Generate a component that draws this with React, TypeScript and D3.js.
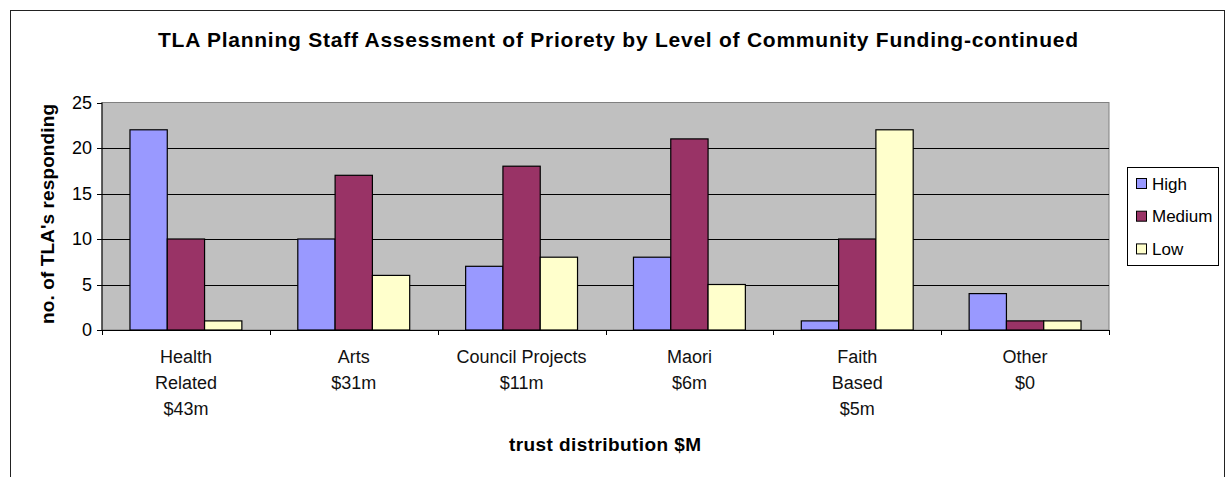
import React from "react";
import * as d3 from "d3";

const categories: string[][] = [
  ["Health", "Related", "$43m"],
  ["Arts", "$31m"],
  ["Council Projects", "$11m"],
  ["Maori", "$6m"],
  ["Faith", "Based", "$5m"],
  ["Other", "$0"],
];
const seriesNames = ["High", "Medium", "Low"];
const high = [22, 10, 7, 8, 1, 4];
const medium = [10, 17, 18, 21, 10, 1];
const low = [1, 6, 8, 5, 22, 1];
const seriesValues = [high, medium, low];
const seriesColors = ["#9999FF", "#993366", "#FFFFCC"];
const yTicks = [0, 5, 10, 15, 20, 25];

const title = "TLA Planning Staff Assessment of Priorety by Level of Community Funding-continued";
const xTitle = "trust distribution $M";
const yTitle = "no. of TLA's responding";

export default function App() {
  const W = 1227, H = 477;
  const plot = { left: 102, right: 1109, top: 102.5, bottom: 330 };
  const font = "Arial, 'Liberation Sans', sans-serif";

  const x0 = d3
    .scaleBand<number>()
    .domain(d3.range(categories.length))
    .range([plot.left, plot.right])
    .paddingInner(0)
    .paddingOuter(0);
  const catW = x0.bandwidth();
  const barW = catW / 4.5;
  const y = d3.scaleLinear().domain([0, 25]).range([plot.bottom, plot.top]);

  return (
    <svg
      width={W}
      height={H}
      style={{ position: "fixed", left: 0, top: 0, background: "#fff" }}
      fontFamily={font}
    >
      <rect x={10.5} y={10.5} width={1214} height={500} fill="#fff" stroke="#222" strokeWidth={1} />
      <text x={618} y={47} textAnchor="middle" fontWeight="bold" fontSize={21} textLength={920} lengthAdjust="spacing">
        {title}
      </text>
      <rect
        x={plot.left}
        y={plot.top}
        width={plot.right - plot.left}
        height={plot.bottom - plot.top}
        fill="#C0C0C0"
        stroke="#808080"
        strokeWidth={1}
      />
      {yTicks.map((t) => (
        <g key={t}>
          {t > 0 && t < 25 && (
            <line x1={plot.left} x2={plot.right} y1={Math.round(y(t)) + 0.5} y2={Math.round(y(t)) + 0.5} stroke="#000" strokeWidth={1} />
          )}
          <line x1={plot.left - 5} x2={plot.left} y1={Math.round(y(t)) + 0.5} y2={Math.round(y(t)) + 0.5} stroke="#000" />
          <text x={92} y={y(t)} dy="0.35em" textAnchor="end" fontSize={18}>
            {t}
          </text>
        </g>
      ))}
      {categories.map((_, ci) =>
        seriesValues.map((vals, si) => {
          const bx = (x0(ci) as number) + barW * 0.75 + si * barW;
          return (
            <rect
              key={ci + "-" + si}
              x={bx}
              y={y(vals[ci])}
              width={barW}
              height={y(0) - y(vals[ci])}
              fill={seriesColors[si]}
              stroke="#000"
              strokeWidth={1.2}
            />
          );
        })
      )}
      <line x1={plot.left} x2={plot.right} y1={330.5} y2={330.5} stroke="#000" strokeWidth={1} />
      <line x1={plot.left} x2={plot.left} y1={plot.top} y2={plot.bottom} stroke="#000" strokeWidth={1} />
      {d3.range(categories.length + 1).map((i) => {
        const tx = Math.round(plot.left + i * catW) + 0.5;
        return <line key={i} x1={tx} x2={tx} y1={330} y2={335} stroke="#000" />;
      })}
      {categories.map((lines, ci) => (
        <text key={ci} textAnchor="middle" fontSize={18} fill="#111">
          {lines.map((ln, li) => (
            <tspan key={li} x={(x0(ci) as number) + catW / 2} y={363 + li * 26}>
              {ln}
            </tspan>
          ))}
        </text>
      ))}
      <text x={605} y={451} textAnchor="middle" fontWeight="bold" fontSize={19} textLength={192} lengthAdjust="spacing">
        {xTitle}
      </text>
      <text
        transform={`translate(54, 214) rotate(-90)`}
        textAnchor="middle"
        fontWeight="bold"
        fontSize={19}
        textLength={220}
        lengthAdjust="spacing"
      >
        {yTitle}
      </text>
      <rect x={1127.5} y={167.5} width={91} height={98} fill="#fff" stroke="#000" strokeWidth={1} />
      {seriesNames.map((s, i) => (
        <g key={s}>
          <rect x={1136.5} y={178.5 + i * 32.7} width={10} height={10} fill={seriesColors[i]} stroke="#000" />
          <text x={1152} y={189.5 + i * 32.7} fontSize={17}>
            {s}
          </text>
        </g>
      ))}
    </svg>
  );
}
